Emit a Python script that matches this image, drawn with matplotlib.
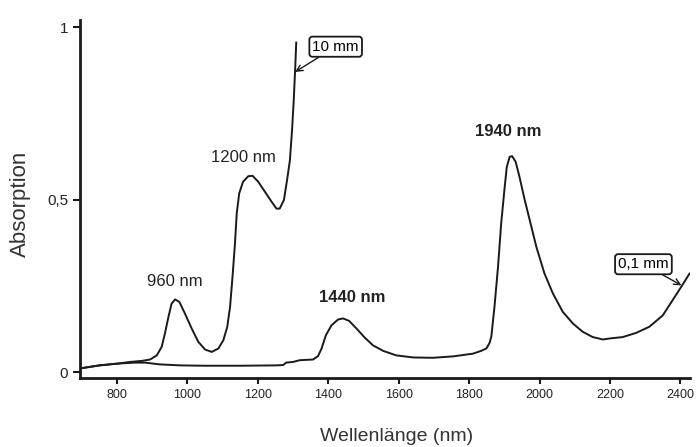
import matplotlib
matplotlib.use('Agg')
import matplotlib.pyplot as plt

# 10 mm Schichtdicke
wl_10mm = [700, 750, 800, 837, 870, 894, 913, 927, 936, 946, 955, 965, 977, 993,
           1012, 1031, 1050, 1069, 1088, 1102, 1113, 1121, 1128, 1135, 1140, 1147,
           1158, 1173, 1185, 1201, 1220, 1239, 1253, 1262, 1274, 1283, 1291, 1297,
           1302, 1306, 1309]
abs_10mm = [0.012, 0.02, 0.025, 0.03, 0.033, 0.037, 0.049, 0.074, 0.112, 0.16,
            0.199, 0.211, 0.204, 0.17, 0.127, 0.088, 0.066, 0.059, 0.069, 0.093,
            0.131, 0.189, 0.276, 0.373, 0.46, 0.518, 0.552, 0.568, 0.569, 0.552,
            0.523, 0.494, 0.474, 0.474, 0.499, 0.557, 0.614, 0.70, 0.79, 0.88, 0.955]

# 0,1 mm Schichtdicke
wl_01mm = [700, 750, 800, 850, 880, 920, 980, 1050, 1150, 1250, 1272, 1280, 1300,
           1319, 1357, 1371, 1381, 1393, 1409, 1428, 1442, 1459, 1480, 1503, 1527,
           1556, 1593, 1641, 1697, 1754, 1811, 1834, 1849, 1858, 1863, 1872, 1882,
           1891, 1901, 1907, 1915, 1922, 1932, 1943, 1957, 1972, 1991, 2014, 2038,
           2066, 2095, 2123, 2151, 2180, 2199, 2236, 2274, 2312, 2350, 2378, 2402,
           2426]
abs_01mm = [0.012, 0.02, 0.025, 0.028, 0.028, 0.023, 0.02, 0.019, 0.019, 0.02,
            0.021, 0.028, 0.03, 0.035, 0.037, 0.047, 0.069, 0.107, 0.136, 0.153,
            0.156, 0.149, 0.127, 0.101, 0.078, 0.062, 0.049, 0.043, 0.042, 0.046,
            0.054, 0.062, 0.069, 0.085, 0.103, 0.19, 0.305, 0.431, 0.537, 0.595,
            0.624, 0.626, 0.61, 0.566, 0.503, 0.441, 0.363, 0.286, 0.228, 0.175,
            0.141, 0.117, 0.102, 0.095, 0.098, 0.102, 0.114, 0.132, 0.165, 0.209,
            0.247, 0.286]

x_ticks = [800, 1000, 1200, 1400, 1600, 1800, 2000, 2200, 2400]
y_ticks = [0, 0.5, 1]
y_tick_labels = ['0', '0,5', '1']

plt.rcParams['font.family'] = ['Liberation Sans', 'DejaVu Sans']

fig = plt.figure(figsize=(6.99, 4.47), dpi=100)
ax = fig.add_axes([0.1145, 0.154, 0.873, 0.801])

ax.plot(wl_10mm, abs_10mm, color='#1a1a1a', lw=1.4)
ax.plot(wl_01mm, abs_01mm, color='#1a1a1a', lw=1.4)

ax.set_xlim(695, 2428)
ax.set_ylim(-0.017, 1.02)
ax.set_xticks(x_ticks)
ax.set_yticks(y_ticks)
ax.set_yticklabels(y_tick_labels)
ax.tick_params(axis='x', labelsize=9, length=4, width=1.5, color='#1a1a1a', labelcolor='#222222')
ax.tick_params(axis='y', labelsize=11, length=5, width=1.5, color='#1a1a1a', labelcolor='#222222')

for side in ['top', 'right']:
    ax.spines[side].set_visible(False)
for side in ['left', 'bottom']:
    ax.spines[side].set_linewidth(2)
    ax.spines[side].set_color('#1a1a1a')

ax.set_xlabel('Wellenlänge (nm)', fontsize=14, color='#333333', va='center')
ax.xaxis.set_label_coords(0.518, -0.163)
ax.set_ylabel('Absorption', fontsize=16, color='#333333', va='center')
ax.yaxis.set_label_coords(-0.097, 0.486)

ax.text(965, 0.264, '960 nm', fontsize=12, ha='center', va='center', color='#222222')
ax.text(1160, 0.623, '1200 nm', fontsize=12, ha='center', va='center', color='#222222')
ax.text(1467, 0.217, '1440 nm', fontsize=12, fontweight='bold', ha='center', va='center', color='#222222')
ax.text(1912, 0.696, '1940 nm', fontsize=12, fontweight='bold', ha='center', va='center', color='#222222')

box = dict(boxstyle='round,pad=0.2', fc='white', ec='#1a1a1a', lw=1.3)
arrow = dict(arrowstyle='->', color='#1a1a1a', lw=1, shrinkA=0, shrinkB=0)
ax.annotate('10 mm', xy=(1306, 0.87), xytext=(1421, 0.943), fontsize=11,
            ha='center', va='center', bbox=box, arrowprops=arrow)
ax.annotate('0,1 mm', xy=(2403, 0.252), xytext=(2295, 0.313), fontsize=11,
            ha='center', va='center', bbox=box, arrowprops=arrow)

fig.savefig('out.png', dpi=100)
